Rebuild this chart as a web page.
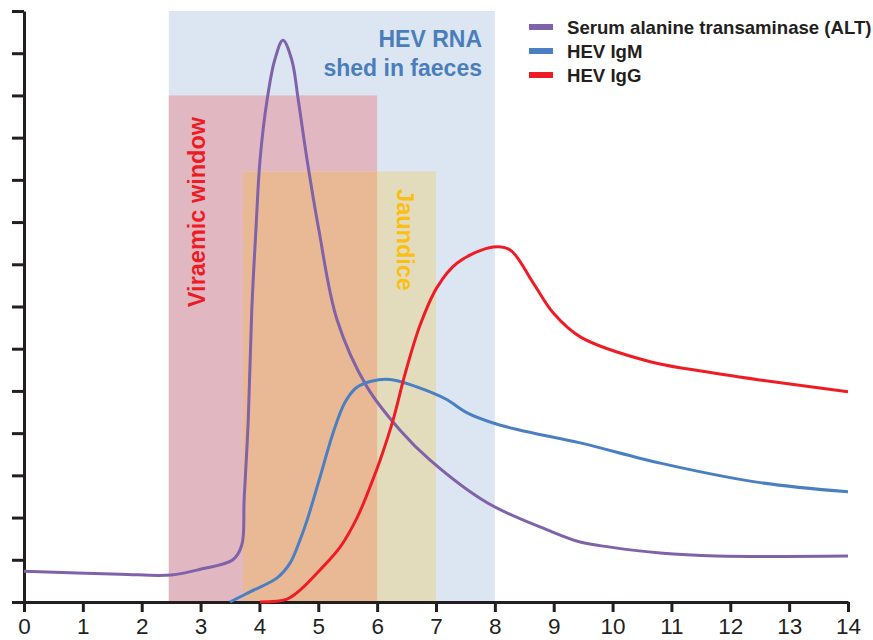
<!DOCTYPE html>
<html>
<head>
<meta charset="utf-8">
<script src="https://cdn.jsdelivr.net/npm/d3@7"></script>
<style>
  body { margin: 0; background: #fff; }
  text { font-family: "Liberation Sans", Arial, sans-serif; }
</style>
</head>
<body>
<div id="chart"></div>
<script>
// weeks after infection
const xTicks = d3.range(0, 15)
const yTicks = d3.range(0, 15)

// serum alanine transaminase
const altX = [0, 1.63, 2.5, 3.01, 3.55, 3.7, 3.74, 3.81, 3.87, 3.94, 4.01, 4.13, 4.26, 4.4, 4.55, 4.66, 4.81, 5.01, 5.32, 5.83, 6.39, 6.9, 7.87, 8.89, 9.45, 9.96, 10.81, 11.77, 14]
const altY = [0.73, 0.66, 0.64, 0.78, 1.0, 1.35, 2.42, 4.31, 6.92, 8.81, 10.47, 11.89, 12.84, 13.31, 12.84, 11.89, 10.47, 8.81, 6.68, 5.09, 4.07, 3.36, 2.35, 1.71, 1.42, 1.3, 1.16, 1.09, 1.09]

// HEV IgM
const igmX = [3.5, 3.84, 4.3, 4.52, 4.69, 4.81, 5.03, 5.25, 5.45, 5.65, 5.9, 6.22, 6.95, 7.19, 7.53, 7.97, 8.43, 9.45, 10.81, 12.45, 14]
const igmY = [0, 0.24, 0.57, 0.92, 1.47, 1.94, 2.96, 4.0, 4.72, 5.08, 5.23, 5.27, 4.95, 4.79, 4.48, 4.24, 4.07, 3.77, 3.29, 2.84, 2.61]

// HEV IgG
const iggX = [4.01, 4.47, 4.69, 5.03, 5.37, 5.66, 5.9, 6.05, 6.27, 6.47, 6.73, 7.02, 7.36, 7.97, 8.26, 8.65, 8.99, 9.45, 10.64, 11.37, 12.5, 14]
const iggY = [0, 0.07, 0.28, 0.76, 1.3, 2.0, 2.8, 3.36, 4.31, 5.38, 6.56, 7.46, 8.03, 8.41, 8.34, 7.56, 6.85, 6.28, 5.69, 5.5, 5.26, 4.98]

// shaded periods [start, end, top]
const rnaBand = [2.46, 8, 14]
const viraemicBand = [2.46, 6, 12]
const jaundiceBand = [3.72, 7, 10.2]

const seriesNames = ["Serum alanine transaminase (ALT)", "HEV IgM", "HEV IgG"]
const seriesColors = ["#7f62a9", "#4a80c1", "#ee1d25"]

const width = 873
const height = 640
const margin = { top: 11, right: 25, bottom: 38, left: 24 }

const svg = d3
  .select("#chart")
  .append("svg")
  .attr("width", width)
  .attr("height", height)

const xScale = d3
  .scaleLinear()
  .domain([0, 14])
  .range([margin.left, width - margin.right])
const yScale = d3
  .scaleLinear()
  .domain([0, 14])
  .range([height - margin.bottom, margin.top])

// background bands
function band(b, color) {
  svg
    .append("rect")
    .attr("x", xScale(b[0]))
    .attr("y", yScale(b[2]))
    .attr("width", xScale(b[1]) - xScale(b[0]))
    .attr("height", yScale(0) - yScale(b[2]))
    .attr("fill", color)
}
band(rnaBand, "#dce6f2")
band(viraemicBand, "#e1b7c2")
band(jaundiceBand, "#e3dcbc")
// where jaundice and viraemia overlap
band([jaundiceBand[0], viraemicBand[1], jaundiceBand[2]], "#e9b995")

// band labels
svg
  .append("text")
  .attr("x", 482)
  .attr("y", 47)
  .attr("text-anchor", "end")
  .attr("font-size", 23)
  .attr("font-weight", "bold")
  .attr("fill", "#4a7ebb")
  .text("HEV RNA")
svg
  .append("text")
  .attr("x", 482)
  .attr("y", 76)
  .attr("text-anchor", "end")
  .attr("font-size", 23)
  .attr("font-weight", "bold")
  .attr("fill", "#4a7ebb")
  .text("shed in faeces")

svg
  .append("text")
  .attr("transform", "translate(205, 212)rotate(-90)")
  .attr("text-anchor", "middle")
  .attr("font-size", 23.5)
  .attr("font-weight", "bold")
  .attr("fill", "#ed1c24")
  .text("Viraemic window")

svg
  .append("text")
  .attr("transform", "translate(397, 240)rotate(90)")
  .attr("text-anchor", "middle")
  .attr("font-size", 23.5)
  .attr("font-weight", "bold")
  .attr("fill", "#fbbf14")
  .text("Jaundice")

// axes
const xAxis = d3
  .axisBottom(xScale)
  .tickValues(xTicks)
  .tickSize(10)
  .tickSizeOuter(0)
  .tickPadding(6)
  .tickFormat(d3.format("d"))
const yAxis = d3
  .axisLeft(yScale)
  .tickValues(yTicks)
  .tickSize(12)
  .tickSizeOuter(0)
  .tickFormat("")

const gx = svg
  .append("g")
  .attr("class", "xAxis")
  .attr("transform", "translate(0," + yScale(0) + ")")
  .call(xAxis)
const gy = svg
  .append("g")
  .attr("class", "yAxis")
  .attr("transform", "translate(" + xScale(0) + ",0)")
  .call(yAxis)

svg.selectAll(".xAxis path, .yAxis path")
  .attr("stroke", "#231f20")
  .attr("stroke-width", 3)
svg.selectAll(".xAxis line, .yAxis line")
  .attr("stroke", "#231f20")
  .attr("stroke-width", 3)
gx.selectAll("text")
  .attr("font-size", 22.5)
  .attr("fill", "#231f20")
  .attr("font-family", "'Liberation Sans', Arial, sans-serif")

// curves
const line = d3
  .line()
  .x(function(d) { return xScale(d[0]) })
  .y(function(d) { return yScale(d[1]) })
  .curve(d3.curveCatmullRom.alpha(0.5))

const curves = [
  d3.zip(altX, altY),
  d3.zip(igmX, igmY),
  d3.zip(iggX, iggY)
]

curves.forEach(function(pts, i) {
  svg
    .append("path")
    .datum(pts)
    .attr("d", line)
    .attr("fill", "none")
    .attr("stroke", seriesColors[i])
    .attr("stroke-width", 3)
    .attr("stroke-linejoin", "round")
})

// legend
const legend = svg
  .selectAll("g.legend")
  .data(seriesNames)
  .enter()
  .append("g")
  .attr("class", "legend")
  .attr("transform", function(d, i) {
    return "translate(529," + (27 + i * 24) + ")"
  })

legend
  .append("rect")
  .attr("x", 0)
  .attr("y", -3)
  .attr("width", 24)
  .attr("height", 6)
  .attr("fill", function(d, i) { return seriesColors[i] })

legend
  .append("text")
  .attr("x", 38)
  .attr("y", 6.5)
  .attr("font-size", 18.6)
  .attr("font-weight", "bold")
  .attr("fill", "#231f20")
  .text(function(d) { return d })
</script>
</body>
</html>
